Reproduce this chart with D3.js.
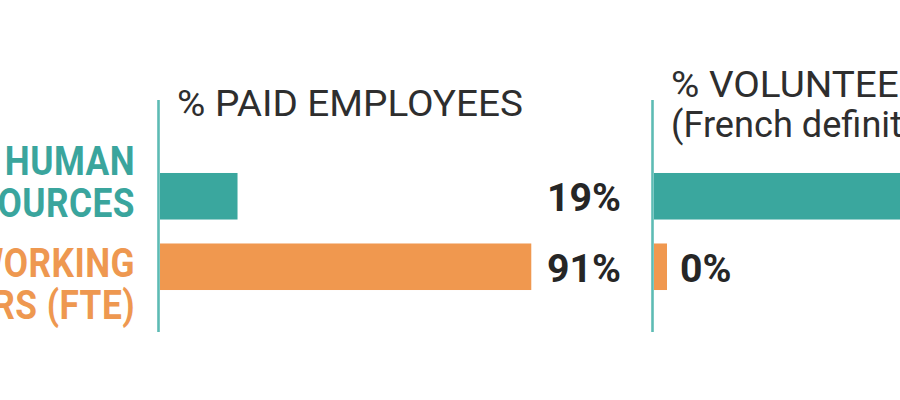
<!DOCTYPE html>
<html><head><meta charset="utf-8">
<script src="https://cdn.jsdelivr.net/npm/d3@7"></script>
<style>body{margin:0;background:#fff;} svg{display:block;}</style>
</head><body>
<svg id="chart" width="900" height="400"></svg>
<script>
// ---- data ----
const categories = ["HUMAN RESOURCES", "WORKING HOURS (FTE)"];
const categoryLines = [["HUMAN", "RESOURCES"], ["WORKING", "HOURS (FTE)"]];
const paidValues = [19, 91];
const volunteerValues = [81, 0];
const panelTitles = [["% PAID EMPLOYEES"], ["% VOLUNTEERS", "(French definition)"]];

// ---- style ----
const barColors = ["#3aa79e", "#f0984f"];
const textColors = ["#3aa59d", "#ee9850"];
const axisColor = "#5dbbb4";
const FONT = "Roboto, 'Liberation Sans', sans-serif";

const svg = d3.select("#chart");

const y = d3.scaleBand().domain(categories).range([161, 302]).paddingInner(0.34).paddingOuter(0.17);
const xPaid = d3.scaleLinear().domain([0, 100]).range([160, 568]);
const xVol = d3.scaleLinear().domain([0, 100]).range([654, 1062]);

function measure(str, size, weight) {
  const t = svg.append("text").attr("font-family", FONT).attr("font-size", size).attr("font-weight", weight).text(str);
  const w = t.node().getComputedTextLength();
  t.remove();
  return w;
}
const labelSize = 40, labelWeight = 700;
const numSize = 39, numWeight = 700;
const titleSize = 36, titleWeight = 400;
const fLabel = 128 / measure("HUMAN", labelSize, labelWeight);
const fNum = 74 / measure("19%", numSize, numWeight);
const fTitleCaps = 346 / measure("% PAID EMPLOYEES", titleSize, titleWeight);
const fTitleLower = 231 / measure("(French definit", titleSize, titleWeight);
const titleScale = line => /[a-z]/.test(line) ? fTitleLower : fTitleCaps;

const fmt = v => `${v}%`;
const minBar = 13;

function panel(x, values, labelMode, title) {
  const g = svg.append("g");
  g.append("line")
    .attr("x1", x(0) - 1.5).attr("x2", x(0) - 1.5)
    .attr("y1", 100).attr("y2", 332)
    .attr("stroke", axisColor).attr("stroke-width", 2.6);
  g.selectAll("rect.bar").data(values).join("rect")
    .attr("class", "bar")
    .attr("x", x(0))
    .attr("y", (d, i) => y(categories[i]))
    .attr("height", y.bandwidth())
    .attr("width", d => Math.max(x(d) - x(0), minBar))
    .attr("fill", (d, i) => barColors[i]);
  g.selectAll("text.val").data(values).join("text")
    .attr("class", "val")
    .attr("font-family", FONT).attr("font-size", numSize).attr("font-weight", numWeight)
    .attr("fill", "#262626")
    .attr("text-anchor", labelMode === "column" ? "end" : "start")
    .attr("transform", (d, i) => {
      const tx = labelMode === "column" ? x(100) + 53 : x(0) + Math.max(x(d) - x(0), minBar) + 13;
      const ty = y(categories[i]) + y.bandwidth() / 2 + 15;
      return `translate(${tx},${ty}) scale(${fNum},1)`;
    })
    .text(fmt);
  const firstBase = title.length > 1 ? 97 : 116;
  title.forEach((line, k) => {
    g.append("text")
      .attr("font-family", FONT).attr("font-size", titleSize).attr("font-weight", titleWeight)
      .attr("fill", "#2e2e2e")
      .attr("transform", `translate(${x(0) + 17},${firstBase + k * 40}) scale(${titleScale(line)},1)`)
      .text(line);
  });
}

panel(xPaid, paidValues, "column", panelTitles[0]);
panel(xVol, volunteerValues, "after", panelTitles[1]);

const labelDy = [-21.5, 10];
categories.forEach((c, i) => {
  const base = y(c) + y.bandwidth() / 2 + labelDy[i];
  categoryLines[i].forEach((line, k) => {
    svg.append("text")
      .attr("font-family", FONT).attr("font-size", labelSize).attr("font-weight", labelWeight)
      .attr("fill", textColors[i])
      .attr("text-anchor", "end")
      .attr("letter-spacing", 0.5)
      .attr("transform", `translate(${xPaid(0) - 25},${base + k * 42}) scale(${fLabel},1)`)
      .text(line);
  });
});
</script>
</body></html>
